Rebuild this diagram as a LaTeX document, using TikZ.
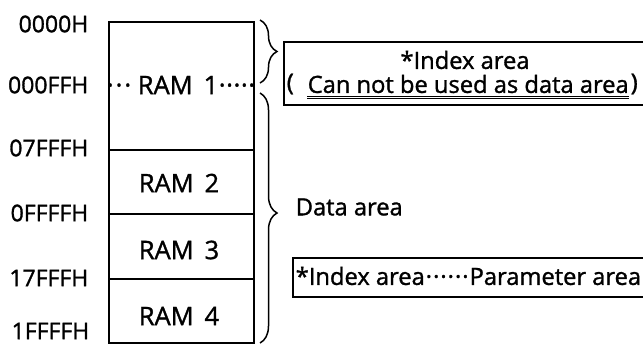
\documentclass[tikz,border=0pt]{standalone}
\usepackage{fontspec}
\setmainfont{Open Sans}
\newfontfamily\heavy{Open Sans}[FakeBold=1.3]
\usetikzlibrary{decorations.pathreplacing}
\newcommand\dotL{·\kern2pt}
\newcommand\dotR{\kern0.6pt·}
\begin{document}
\begin{tikzpicture}[x=1pt,y=-1pt, line width=1.5pt,
  lbl/.style={anchor=east, inner sep=0pt, font=\heavy\fontsize{23}{27}\selectfont},
  txt/.style={inner sep=0pt, font=\heavy\fontsize{23.7}{27}\selectfont},
  ram/.style={inner sep=0pt, font=\heavy\fontsize{25.5}{29}\selectfont},
  cell/.style={draw, minimum width=145pt, inner sep=0pt, anchor=north west},
  frame/.style={draw, inner sep=0pt, anchor=north west},
  brc/.style={decorate, decoration={brace, amplitude=17pt}},
  ul/.style={line width=0.9pt}
]
\clip (0,0) rectangle (643,346);
% memory cells
\node[cell, minimum height=128pt] (c1) at (108,21) {};
\node[cell, minimum height=64pt] (c2) at (108,149) {};
\node[cell, minimum height=65pt] (c3) at (108,213) {};
\node[cell, minimum height=64pt] (c4) at (108,278) {};
\node[ram] (r1) at (181,85) {\dotL\dotL·\ RAM\ \,1\dotR\dotR\dotR\dotR\dotR};
\node[ram] (r2) at (179,183) {RAM\ \,2};
\node[ram] (r3) at (179,250) {RAM\ \,3};
\node[ram] (r4) at (179,316) {RAM\ \,4};
% address labels
\node[lbl] (a0) at (89,24) {0000H};
\node[lbl] (a1) at (89,85) {000FFH};
\node[lbl] (a2) at (89,148) {07FFFH};
\node[lbl] (a3) at (89,213) {0FFFFH};
\node[lbl] (a4) at (89,278) {17FFFH};
\node[lbl] (a5) at (90,331) {1FFFFH};
% braces
\coordinate (b1s) at (260,20);
\coordinate (b1e) at (260,83);
\draw[brc] (b1s) -- (b1e);
\coordinate (b2s) at (260,93);
\coordinate (b2e) at (260,343);
\draw[brc, decoration={aspect=0.48}] (b2s) -- (b2e);
% index area box
\node[frame, minimum width=380pt, minimum height=63pt] (box1) at (283,41) {};
\node[txt] (t1) at (465,60) {*Index area};
\node[txt, anchor=west] (p1) at (286,84) {(};
\node[txt, anchor=west] (u1) at (307,84) {Can not be used as data area};
\node[txt, anchor=west] (p2) at (630,84) {)};
\draw[ul] ([yshift=-2.5pt]u1.south west) -- ([yshift=-2.5pt]u1.south east);
\draw[ul] ([yshift=-4.7pt]u1.south west) -- ([yshift=-4.7pt]u1.south east);
% data area
\node[txt, anchor=west] (da) at (295,207) {Data area};
% parameter box
\node[frame, minimum width=360pt, minimum height=39pt] (box2) at (292,257) {};
\node[txt, anchor=west] (t2) at (295,276) {*Index area\kern1pt·\kern1pt·\kern1pt·\kern1pt·\kern1pt·\kern1pt·\kern1pt Parameter area};
\end{tikzpicture}
\end{document}
